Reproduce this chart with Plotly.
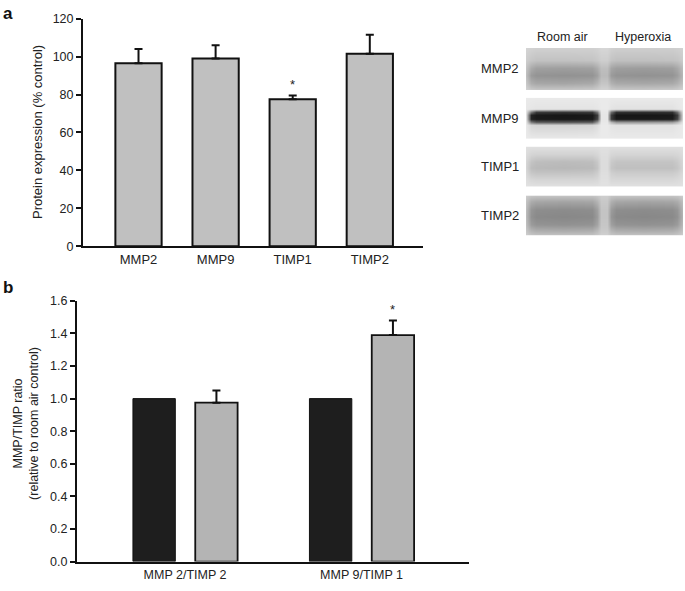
import plotly.graph_objects as go

W, H = 685, 591

# ---------- data ----------
proteins = ["MMP2", "MMP9", "TIMP1", "TIMP2"]
protein_expr = [96.5, 99.0, 77.5, 101.5]
protein_err = [7.5, 7.0, 2.0, 10.0]
protein_sig = ["", "", "*", ""]

ratio_cats = ["MMP 2/TIMP 2", "MMP 9/TIMP 1"]
ratio_room_air = [1.0, 1.0]
ratio_hyperoxia = [0.975, 1.39]
ratio_hyper_err = [0.075, 0.09]
ratio_sig = ["", "*"]

yticks_a = [0, 20, 40, 60, 80, 100, 120]
yticks_b = [0.0, 0.2, 0.4, 0.6, 0.8, 1.0, 1.2, 1.4, 1.6]

blot_lanes = ["Room air", "Hyperoxia"]
blot_names = ["MMP2", "MMP9", "TIMP1", "TIMP2"]

# western blot scans: grey levels (0 black .. 255 white) sampled on a grid
blot_cols = [0, 5, 10, 38, 66, 71, 75, 81, 85, 90, 118, 146, 151, 157]
blot_mmp2_rows = [0, 12, 20, 28, 36, 43]
blot_mmp2 = [
    [212, 210, 208, 208, 208, 210, 214, 214, 208, 206, 206, 206, 208, 210],
    [205, 198, 194, 194, 196, 200, 206, 206, 196, 192, 192, 194, 196, 204],
    [195, 170, 160, 158, 160, 172, 190, 190, 165, 158, 156, 158, 168, 190],
    [190, 155, 148, 146, 148, 160, 186, 186, 155, 148, 146, 148, 158, 185],
    [200, 175, 168, 166, 170, 182, 198, 198, 178, 170, 168, 170, 178, 195],
    [212, 205, 202, 202, 204, 208, 212, 212, 205, 202, 202, 204, 206, 212],
]
blot_mmp9_rows = [0, 11, 14, 17, 22, 25, 28, 42]
blot_mmp9 = [
    [234, 234, 234, 234, 234, 234, 234, 234, 234, 234, 234, 234, 234, 234],
    [232, 230, 228, 228, 228, 230, 234, 234, 228, 226, 226, 226, 230, 234],
    [225, 120, 60, 55, 60, 120, 232, 232, 110, 50, 48, 50, 110, 232],
    [220, 35, 25, 22, 25, 60, 230, 230, 60, 22, 22, 25, 60, 230],
    [222, 35, 26, 24, 26, 70, 230, 230, 60, 26, 26, 28, 70, 230],
    [228, 120, 90, 85, 90, 150, 232, 232, 180, 150, 150, 155, 180, 232],
    [232, 215, 212, 212, 214, 222, 234, 234, 228, 226, 226, 226, 230, 234],
    [234, 234, 234, 234, 234, 234, 234, 234, 234, 234, 234, 234, 234, 234],
]
blot_timp1_rows = [0, 8, 15, 21, 27, 34, 41]
blot_timp1 = [
    [224, 224, 224, 224, 224, 224, 224, 224, 224, 224, 224, 224, 224, 224],
    [220, 212, 210, 210, 210, 214, 222, 222, 214, 212, 212, 212, 214, 220],
    [214, 196, 190, 188, 190, 200, 220, 220, 202, 196, 196, 196, 202, 216],
    [212, 190, 186, 184, 186, 196, 220, 220, 198, 192, 192, 192, 198, 214],
    [216, 200, 196, 196, 198, 206, 222, 222, 208, 204, 204, 204, 208, 218],
    [222, 216, 214, 214, 214, 216, 224, 224, 216, 216, 216, 216, 218, 222],
    [226, 226, 226, 226, 226, 226, 226, 226, 226, 226, 226, 226, 226, 226],
]
blot_timp2_rows = [0, 6, 14, 22, 30, 36, 41]
blot_timp2 = [
    [205, 198, 196, 196, 196, 200, 206, 206, 198, 196, 196, 196, 198, 205],
    [195, 172, 166, 164, 166, 180, 200, 200, 176, 166, 164, 166, 172, 192],
    [188, 150, 142, 140, 142, 160, 196, 196, 156, 142, 140, 142, 150, 185],
    [186, 146, 138, 136, 138, 156, 196, 196, 150, 138, 136, 138, 146, 182],
    [190, 156, 148, 146, 148, 164, 198, 198, 160, 148, 146, 148, 156, 188],
    [198, 180, 174, 172, 174, 186, 202, 202, 182, 174, 172, 174, 180, 196],
    [206, 200, 198, 198, 198, 202, 208, 208, 200, 198, 198, 198, 200, 206],
]
blots = [(blot_mmp2_rows, blot_mmp2), (blot_mmp9_rows, blot_mmp9),
         (blot_timp1_rows, blot_timp1), (blot_timp2_rows, blot_timp2)]

# ---------- layout helpers (pixel -> paper fraction) ----------
def px_x(px):
    return px / W

def px_y(py):
    return 1 - py / H

FONT = "Liberation Sans, Arial, sans-serif"
TXT = "#222222"

fig = go.Figure()

# Panel a bars
fig.add_trace(go.Bar(
    x=proteins, y=protein_expr, width=0.6,
    marker=dict(color="#c0c0c0", line=dict(color="#111111", width=2)),
    error_y=dict(type="data", symmetric=False, array=protein_err,
                 arrayminus=[0] * len(protein_err),
                 color="#111111", thickness=2, width=4),
    xaxis="x", yaxis="y", showlegend=False,
))

# Panel b bars
fig.add_trace(go.Bar(
    x=ratio_cats, y=ratio_room_air, width=0.24, offset=-0.295,
    marker=dict(color="#1e1e1e", line=dict(color="#111111", width=1)),
    xaxis="x2", yaxis="y2", showlegend=False, name="Room air",
))
fig.add_trace(go.Bar(
    x=ratio_cats, y=ratio_hyperoxia, width=0.24, offset=0.058,
    marker=dict(color="#b4b4b4", line=dict(color="#111111", width=1.8)),
    error_y=dict(type="data", symmetric=False, array=ratio_hyper_err,
                 arrayminus=[0] * len(ratio_hyper_err),
                 color="#111111", thickness=2, width=4),
    xaxis="x2", yaxis="y2", showlegend=False, name="Hyperoxia",
))

# Western blot images as smoothed heatmaps
blot_boxes = [(42, 85), (93, 135), (143, 184), (193, 234)]
blot_x0, blot_x1 = 526, 683
for i, ((rows, z), (t, b)) in enumerate(zip(blots, blot_boxes)):
    k = i + 3
    fig.add_trace(go.Heatmap(
        x=blot_cols, y=rows, z=z, zmin=0, zmax=255, zsmooth="best",
        colorscale=[[0, "rgb(0,0,0)"], [1, "rgb(255,255,255)"]],
        showscale=False, hoverinfo="skip",
        xaxis=f"x{k}", yaxis=f"y{k}",
    ))
    fig.update_layout(**{
        f"xaxis{k}": dict(domain=[px_x(blot_x0), px_x(blot_x1)], visible=False,
                          anchor=f"y{k}", range=[blot_cols[0], blot_cols[-1]],
                          fixedrange=True),
        f"yaxis{k}": dict(domain=[px_y(b), px_y(t)], visible=False,
                          anchor=f"x{k}", range=[rows[-1], rows[0]],
                          fixedrange=True),
    })

axis_common = dict(showline=True, linecolor="#111111", linewidth=2,
                   showgrid=False, zeroline=False)

fig.update_layout(
    width=W, height=H,
    margin=dict(l=0, r=0, t=0, b=0),
    paper_bgcolor="white", plot_bgcolor="white",
    barmode="group",
    font=dict(family=FONT, color=TXT),
    xaxis=dict(**axis_common, domain=[px_x(83), px_x(423)], anchor="y",
               range=[-0.72, 3.69], ticks="", ticklen=0,
               tickfont=dict(family=FONT, size=13, color=TXT)),
    yaxis=dict(**axis_common, domain=[px_y(245), px_y(12)], anchor="x",
               range=[0, 120], tickvals=yticks_a, ticks="outside",
               ticklen=5, tickwidth=1.5, tickcolor="#111111",
               tickfont=dict(family=FONT, size=12.5, color=TXT)),
    xaxis2=dict(**axis_common, domain=[px_x(77), px_x(469)], anchor="y2",
                range=[-0.612, 1.609], ticks="", ticklen=0,
                tickfont=dict(family=FONT, size=12.5, color=TXT)),
    yaxis2=dict(**axis_common, domain=[px_y(568), px_y(301)], anchor="x2",
                range=[0, 1.6], tickvals=yticks_b, tickformat=".1f",
                ticks="outside", ticklen=5, tickwidth=1.5, tickcolor="#111111",
                tickfont=dict(family=FONT, size=12.5, color=TXT)),
)

ann = []
# panel letters
ann.append(dict(text="<b>a</b>", x=px_x(1), y=px_y(7), xref="paper", yref="paper",
                xanchor="left", yanchor="middle", showarrow=False,
                font=dict(family=FONT, size=17, color="#111111")))
ann.append(dict(text="<b>b</b>", x=px_x(1), y=px_y(287), xref="paper", yref="paper",
                xanchor="left", yanchor="middle", showarrow=False,
                font=dict(family=FONT, size=17, color="#111111")))
# y titles
ann.append(dict(text="Protein expression (% control)", x=px_x(38), y=px_y(128),
                xref="paper", yref="paper", textangle=-90, showarrow=False,
                xanchor="center", yanchor="middle",
                font=dict(family=FONT, size=13, color=TXT)))
ann.append(dict(text="MMP/TIMP ratio<br>(relative to room air control)",
                x=px_x(26), y=px_y(427), xref="paper", yref="paper",
                textangle=-90, showarrow=False, xanchor="center", yanchor="middle",
                font=dict(family=FONT, size=12.5, color=TXT)))
# significance stars
for cat, v, e, s in zip(proteins, protein_expr, protein_err, protein_sig):
    if s:
        ann.append(dict(text=s, x=cat, y=v + e, xref="x", yref="y",
                        yanchor="bottom", showarrow=False, yshift=1,
                        font=dict(family=FONT, size=13, color=TXT)))
for j, (v, e, s) in enumerate(zip(ratio_hyperoxia, ratio_hyper_err, ratio_sig)):
    if s:
        ann.append(dict(text=s, x=j + 0.178, y=v + e, xref="x2", yref="y2",
                        yanchor="bottom", showarrow=False, yshift=1,
                        font=dict(family=FONT, size=13, color=TXT)))
# blot labels
for name, (t, b) in zip(blot_names, blot_boxes):
    ann.append(dict(text=name, x=px_x(521), y=px_y((t + b) / 2), xref="paper",
                    yref="paper", xanchor="right", yanchor="middle",
                    showarrow=False, font=dict(family=FONT, size=13, color=TXT)))
for lane, cx in zip(blot_lanes, [562, 643]):
    ann.append(dict(text=lane, x=px_x(cx), y=px_y(31), xref="paper", yref="paper",
                    xanchor="center", yanchor="middle", showarrow=False,
                    font=dict(family=FONT, size=12.5, color=TXT)))
fig.update_layout(annotations=ann)

# remove the browser's default page margin so the figure fills the window
fig.write_html("out.html",
               config={"displayModeBar": False},
               post_script="document.body.style.margin='0';")
